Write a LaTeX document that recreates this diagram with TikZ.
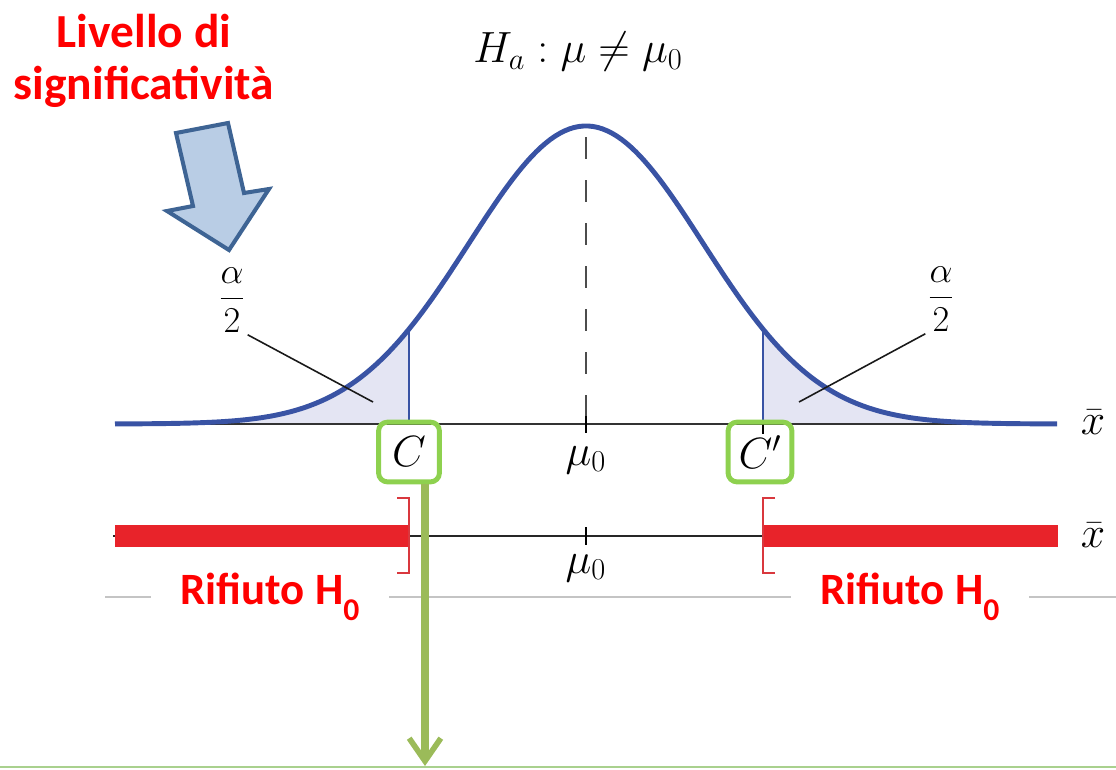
\documentclass[tikz,border=0pt]{standalone}
\usepackage{amsmath}
\usepackage{fontspec}
\newfontfamily\calibri{Carlito}
\usetikzlibrary{arrows.meta,positioning}
\definecolor{curveblue}{HTML}{3953A4}
\definecolor{tailfill}{HTML}{E4E5F3}
\definecolor{rejectred}{HTML}{E8232A}
\definecolor{bracketred}{HTML}{D9383E}
\definecolor{boxgreen}{HTML}{8ED14F}
\definecolor{arrowgreen}{HTML}{9BBB59}
\definecolor{bottomgreen}{HTML}{A9D18E}
\definecolor{blockfill}{HTML}{B9CDE5}
\definecolor{blockline}{HTML}{3E6494}
\definecolor{sepgray}{HTML}{C4C4C4}

\begin{document}
\begin{tikzpicture}[x=0.02cm, y=-0.02cm, line join=round,
	declare function={dens(\t)=424-298*exp(-0.5*((\t-586)/117)*((\t-586)/117));},
	curve/.style={curveblue, line width=2.8pt},
	cutline/.style={curveblue, line width=0.8pt},
	axisline/.style={black!80, line width=1.4pt},
	pointer/.style={black!90, line width=0.9pt},
	mathlabel/.style={font=\fontsize{24}{28}\selectfont, inner sep=1pt},
	fraclabel/.style={font=\fontsize{21}{25}\selectfont, inner sep=1pt},
	cbox/.style={draw=boxgreen, line width=2.8pt, rounded corners=5pt,
		minimum width=34.6pt, minimum height=34pt, inner sep=0pt, mathlabel},
	redtext/.style={text=red, font=\calibri\bfseries\fontsize{25.5}{30}\selectfont},
	bracket/.style={bracketred, line width=0.9pt, line join=miter},
	greenarrow/.style={arrowgreen, line width=4.5pt,
		-{Straight Barb[length=13pt, width=18pt, line width=3.2pt]}}
	]
	\useasboundingbox (0,0) rectangle (1116,769);
	
	% Code colorate sotto la curva
	\fill[tailfill] (115,424) -- plot[domain=115:409, samples=80] (\x,{dens(\x)}) -- (409,424) -- cycle;
	\fill[tailfill] (763,424) -- plot[domain=763:1057, samples=80] (\x,{dens(\x)}) -- (1057,424) -- cycle;
	
	% Asse x e valori critici
	\draw[axisline] (115,424) -- (1057,424);
	\draw[cutline] (409,424) -- (409,{dens(409)});
	\draw[cutline] (763,424) -- (763,{dens(763)});
	\draw[black!70, line width=0.9pt, dash pattern=on 12.5pt off 12pt] (586,137) -- (586,424);
	\draw[line width=1.3pt] (586,416) -- (586,433);
	\draw[line width=0.8pt] (763,424) -- (763,434);
	
	% Curva normale
	\draw[curve] plot[domain=115:1057, samples=200] (\x,{dens(\x)});
	
	% Titolo
	\node[mathlabel, font=\fontsize{25.5}{30}\selectfont] (ipotesi) at (578,52) {$H_a : \mu \neq \mu_0$};
	
	% Etichette alpha/2
	\node[fraclabel] (alfasx) at (232,300) {$\dfrac{\alpha}{2}$};
	\node[fraclabel] (alfadx) at (941,299) {$\dfrac{\alpha}{2}$};
	\coordinate (codasx) at (373,402);
	\coordinate (codadx) at (799,402);
	\draw[pointer] (alfasx.south east) -- (codasx);
	\draw[pointer] (alfadx.south west) -- (codadx);
	
	% Etichette sull'asse
	\node[cbox] (Cbox) at (409,452) {$C$};
	\node[cbox, minimum width=36.3pt] (Cpbox) at (760,452) {$C'$};
	\node[mathlabel] (mu) at (586,460) {$\mu_0$};
	\node[mathlabel] (xbar) at (1093,422) {$\bar{x}$};
	
	% Seconda retta con regioni di rifiuto
	\draw[black!85, line width=1.1pt] (113,536) -- (1058,536);
	\fill[rejectred] (115,525) rectangle (409,547);
	\fill[rejectred] (763,525) rectangle (1058,547);
	\draw[bracket] (397,498) -- (409,498) -- (409,573) -- (397,573);
	\draw[bracket] (775,498) -- (763,498) -- (763,573) -- (775,573);
	\draw[line width=1.1pt] (586,527) -- (586,545);
	\node[mathlabel] (mudue) at (586,568) {$\mu_0$};
	\node[mathlabel] (xbardue) at (1093,535) {$\bar{x}$};
	
	% Linea grigia e scritte
	\draw[sepgray, line width=0.7pt] (105,597) -- (1116,597);
	\node[redtext, fill=white, minimum width=136pt, minimum height=30pt] (rifsx) at (270,597)
		{Rifiuto H\raisebox{-0.35em}{\fontsize{18}{18}\selectfont 0}};
	\node[redtext, fill=white, minimum width=136pt, minimum height=30pt] (rifdx) at (910,597)
		{Rifiuto H\raisebox{-0.35em}{\fontsize{18}{18}\selectfont 0}};
	
	% Livello di significativita e freccia a blocco
	\node[redtext, font=\calibri\bfseries\fontsize{27}{30}\selectfont, align=center] (livello) at (144,61)
		{Livello di\\significatività};
	\filldraw[fill=blockfill, draw=blockline, line width=2.3pt, line join=miter]
		(176,133) -- (228,123) -- (244,193) -- (269,189) -- (229,250) -- (167,211) -- (193,206) -- cycle;
	
	% Freccia verde e linea in basso
	\draw[bottomgreen, line width=1.1pt] (0,767) -- (1116,767);
	\coordinate (fondo) at (425,766);
	\draw[greenarrow] (Cbox.south -| fondo) -- (fondo);
	
\end{tikzpicture}
\end{document}
